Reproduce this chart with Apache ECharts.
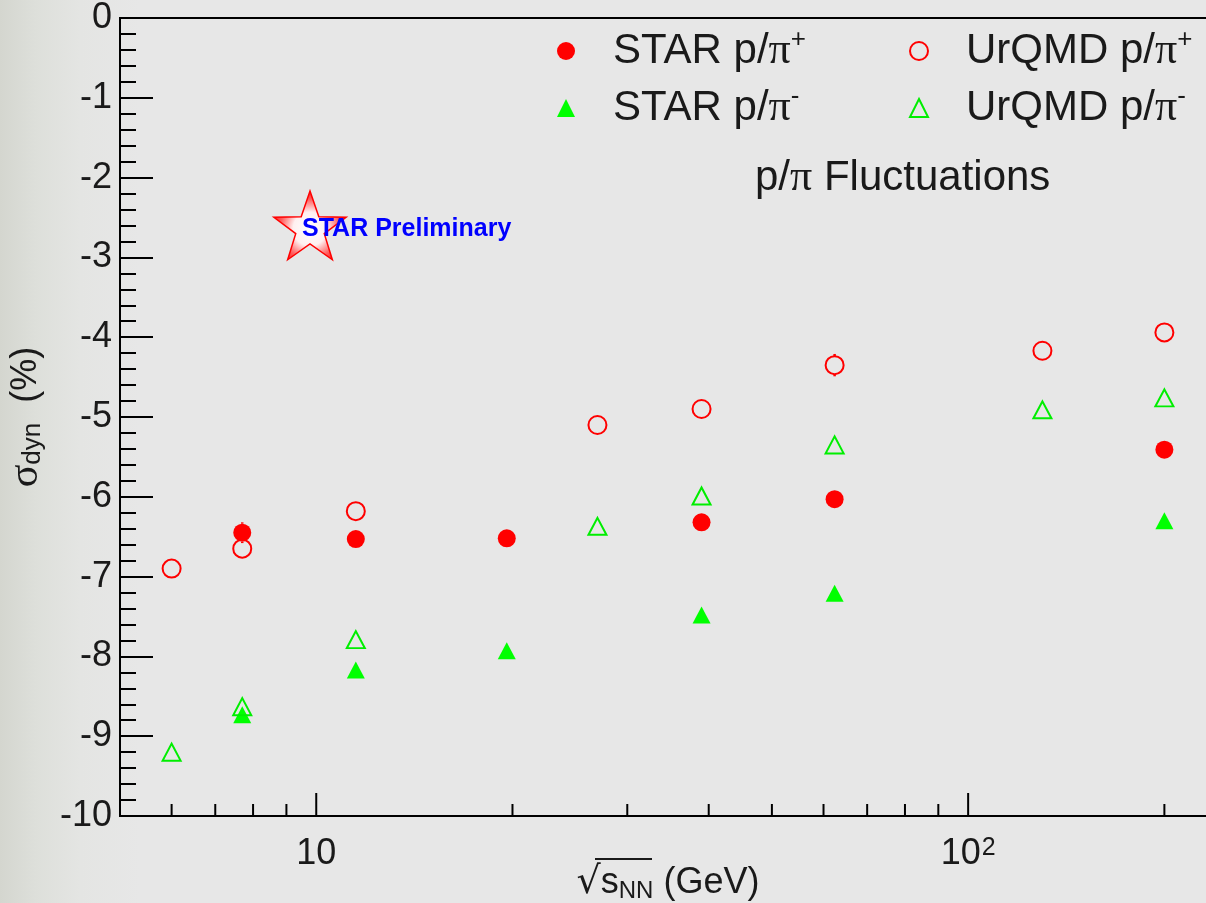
<!DOCTYPE html>
<html><head><meta charset="utf-8">
<script src="https://cdn.jsdelivr.net/npm/echarts@6/dist/echarts.min.js"></script>
<style>
html,body{margin:0;padding:0;}
body{width:1206px;height:903px;background:linear-gradient(to right,#d4d6cf 0px,#dddfda 35px,#e4e5e3 80px,#e7e7e7 140px,#e7e7e7 1206px);}
#c{width:1206px;height:903px;}
</style></head><body><div id="c"></div>
<script>
// ---- data ----
const energiesSTAR = [7.7, 11.5, 19.6, 39, 62.4, 200];
const starPiPlus = [-6.45, -6.53, -6.52, -6.32, -6.03, -5.41];
const starPiPlusErr = [0.13, 0.08, 0.06, 0.06, 0.06, 0.05];
const starPiMinus = [-8.73, -8.17, -7.93, -7.48, -7.21, -6.30];
const starPiMinusErr = [0.08, 0.06, 0.05, 0.05, 0.05, 0.04];
const energiesUrQMD = [6.0, 7.7, 11.5, 27, 39, 62.4, 130, 200];
const urqmdPiPlus = [-6.90, -6.65, -6.18, -5.10, -4.90, -4.35, -4.17, -3.94];
const urqmdPiPlusErr = [0.05, 0.05, 0.05, 0.05, 0.05, 0.14, 0.05, 0.05];
const urqmdPiMinus = [-9.20, -8.63, -7.79, -6.37, -5.99, -5.35, -4.91, -4.76];
const urqmdPiMinusErr = [0.05, 0.05, 0.05, 0.05, 0.05, 0.05, 0.05, 0.05];
const xMinorTicks = [6, 7, 8, 9, 20, 30, 40, 50, 60, 70, 80, 90, 200];
const xMajorTicks = [10, 100];
const seriesNames = ['STAR p/π+', 'STAR p/π-', 'UrQMD p/π+', 'UrQMD p/π-'];

const RED = '#ff0000', GREEN = '#00ee00', GREENF = '#00ff00';
const SANS = 'Liberation Sans, Arial, Helvetica, sans-serif';
const SERIF = 'Liberation Serif, Times New Roman, serif';

function pts(xs, ys, es) { return xs.map((x, i) => es ? [x, ys[i], es[i]] : [x, ys[i]]); }

function errRender(color) {
  return function (params, api) {
    const x = api.value(0), y = api.value(1), e = api.value(2);
    const c = api.coord([x, y]), t = api.coord([x, y + e]), b = api.coord([x, y - e]);
    const r = 9, ch = [];
    if (c[1] - t[1] > r) ch.push({ type: 'line', shape: { x1: c[0], y1: c[1] - r, x2: c[0], y2: t[1] }, style: { stroke: color, lineWidth: 2.5 } });
    if (b[1] - c[1] > r) ch.push({ type: 'line', shape: { x1: c[0], y1: c[1] + r, x2: c[0], y2: b[1] }, style: { stroke: color, lineWidth: 2.5 } });
    return { type: 'group', children: ch };
  };
}
function tickRender(len) {
  return function (params, api) {
    const p = api.coord([api.value(0), -10]);
    return { type: 'line', shape: { x1: p[0], y1: p[1], x2: p[0], y2: p[1] - len }, style: { stroke: '#000', lineWidth: 2 } };
  };
}

// star logo polygon
function starPoints(cx, cy, R, r) {
  const p = [];
  for (let i = 0; i < 10; i++) {
    const a = -Math.PI / 2 + i * Math.PI / 5;
    const rr = i % 2 === 0 ? R : r;
    p.push([cx + rr * Math.cos(a), cy + rr * Math.sin(a)]);
  }
  return p;
}

const legendRich = {
  gap: { width: 33 },
  a: { fontSize: 42, fontFamily: SANS, color: '#1a1a1a', lineHeight: 48 },
  pi: { fontSize: 44, fontFamily: SERIF, color: '#1a1a1a', lineHeight: 48 },
  sup: { fontSize: 26, fontFamily: SANS, color: '#1a1a1a', lineHeight: 48, verticalAlign: 'top' }
};
function legendFmt(name) {
  const m = name.match(/^(.*) p\/π([+-])$/);
  return '{gap|}{a|' + m[1] + ' p/}{pi|π}{sup|' + m[2] + '}';
}

const chart = echarts.init(document.getElementById('c'), null, { renderer: 'canvas' });
chart.setOption({
  backgroundColor: 'transparent',
  animation: false,
  grid: { left: 120, top: 18, bottom: 87, right: -10, outerBoundsMode: 'none', containLabel: false, show: true, borderColor: '#000', borderWidth: 2, backgroundColor: 'transparent' },
  legend: [
    { data: [seriesNames[0], seriesNames[1]], orient: 'vertical', left: 557, top: 27, padding: 0, itemGap: 11, itemWidth: 18, itemHeight: 18, selectedMode: false, formatter: legendFmt, textStyle: { rich: legendRich } },
    { data: [seriesNames[2], seriesNames[3]], orient: 'vertical', left: 909, top: 27, padding: 0, itemGap: 11, itemWidth: 18, itemHeight: 18, selectedMode: false, formatter: legendFmt, textStyle: { rich: legendRich } }
  ],
  xAxis: {
    type: 'log', logBase: 10, min: 5, max: 240,
    axisLine: { lineStyle: { color: '#000', width: 2 } },
    axisTick: { show: false }, splitLine: { show: false }, minorTick: { show: false },
    axisLabel: {
      margin: 20, fontSize: 36, fontFamily: SANS, color: '#1a1a1a',
      showMinLabel: false, showMaxLabel: false,
      formatter: function (v) {
        const k = Math.round(Math.log10(v));
        if (Math.abs(v - Math.pow(10, k)) > 1e-6 * v) return '';
        if (k === 1) return '10';
        if (k === 2) return '10{sup|2}';
        return '';
      },
      rich: { sup: { fontSize: 25, fontFamily: SANS, color: '#1a1a1a', verticalAlign: 'top', lineHeight: 30, padding: [0, 0, 0, 1] } }
    },
    name: '{sq|√}{s|s}{sub|NN}{t| (GeV)}', nameLocation: 'middle', nameGap: 47, nameMoveOverlap: false,
    nameTextStyle: {
      rich: {
        sq: { fontSize: 38, fontFamily: 'DejaVu Sans', color: '#1a1a1a', lineHeight: 40 },
        s: { fontSize: 36, fontFamily: SANS, color: '#1a1a1a', lineHeight: 40 },
        sub: { fontSize: 24, fontFamily: SANS, color: '#1a1a1a', lineHeight: 40, verticalAlign: 'bottom' },
        t: { fontSize: 36, fontFamily: SANS, color: '#1a1a1a', lineHeight: 40 }
      }
    }
  },
  yAxis: {
    type: 'value', min: -10, max: 0, interval: 1,
    axisLine: { show: true, lineStyle: { color: '#000', width: 2 } },
    axisTick: { show: true, inside: true, length: 33, lineStyle: { color: '#000', width: 2 } },
    minorTick: { show: true, splitNumber: 5, length: 16, lineStyle: { color: '#000', width: 2 } },
    splitLine: { show: false },
    axisLabel: { margin: 8, fontSize: 36, fontFamily: SANS, color: '#1a1a1a' },
    name: '{sig|σ}{sub|dyn}{t|  (%)}', nameLocation: 'middle', nameGap: 74, nameRotate: 90, nameMoveOverlap: false,
    nameTextStyle: {
      rich: {
        sig: { fontSize: 42, fontFamily: SERIF, color: '#1a1a1a', lineHeight: 40 },
        sub: { fontSize: 26, fontFamily: SANS, color: '#1a1a1a', lineHeight: 40, verticalAlign: 'bottom' },
        t: { fontSize: 36, fontFamily: SANS, color: '#1a1a1a', lineHeight: 40 }
      }
    }
  },
  graphic: [
    { type: 'polygon', shape: { points: starPoints(310, 229, 38, 15) }, z: 10,
      style: { fill: { type: 'radial', x: 0.5, y: 0.55, r: 0.6, colorStops: [{ offset: 0, color: '#ffffff' }, { offset: 0.4, color: '#fff0f0' }, { offset: 0.7, color: '#ff6060' }, { offset: 1, color: '#ff0000' }] }, stroke: '#ff0000', lineWidth: 1.5 } },
    { type: 'text', left: 302, top: 217, z: 11, style: { text: 'STAR Preliminary', font: 'bold 25px ' + SANS, fill: '#0000ff' } },
    { type: 'text', left: 755, top: 156, z: 11, style: { text: '{a|p/}{pi|π}{a| Fluctuations}', rich: { a: { fontSize: 42, fontFamily: SANS, fill: '#1a1a1a', lineHeight: 46 }, pi: { fontSize: 44, fontFamily: SERIF, fill: '#1a1a1a', lineHeight: 46 } } } },
    { type: 'line', z: 11, shape: { x1: 595, y1: 859, x2: 652, y2: 859 }, style: { stroke: '#1a1a1a', lineWidth: 2 } }
  ],
  series: [
    { type: 'custom', silent: true, z: 3, data: xMinorTicks.map(v => [v, -10]), renderItem: tickRender(12), encode: { x: 0, y: 1 }, clip: false },
    { type: 'custom', silent: true, z: 3, data: xMajorTicks.map(v => [v, -10]), renderItem: tickRender(23), encode: { x: 0, y: 1 }, clip: false },
    { type: 'custom', silent: true, z: 4, data: pts(energiesSTAR, starPiPlus, starPiPlusErr), renderItem: errRender(RED), encode: { x: 0, y: 1 } },
    { type: 'custom', silent: true, z: 4, data: pts(energiesSTAR, starPiMinus, starPiMinusErr), renderItem: errRender(GREENF), encode: { x: 0, y: 1 } },
    { type: 'custom', silent: true, z: 4, data: pts(energiesUrQMD, urqmdPiPlus, urqmdPiPlusErr), renderItem: errRender(RED), encode: { x: 0, y: 1 } },
    { type: 'custom', silent: true, z: 4, data: pts(energiesUrQMD, urqmdPiMinus, urqmdPiMinusErr), renderItem: errRender(GREEN), encode: { x: 0, y: 1 } },
    { name: seriesNames[0], type: 'scatter', z: 5, symbol: 'circle', symbolSize: 18, itemStyle: { color: RED, opacity: 1 }, data: pts(energiesSTAR, starPiPlus) },
    { name: seriesNames[1], type: 'scatter', z: 5, symbol: 'triangle', symbolSize: [18, 17], itemStyle: { color: GREENF, opacity: 1 }, data: pts(energiesSTAR, starPiMinus) },
    { name: seriesNames[2], type: 'scatter', z: 6, symbol: 'circle', symbolSize: 18, itemStyle: { color: 'rgba(0,0,0,0)', borderColor: RED, borderWidth: 2, opacity: 1 }, data: pts(energiesUrQMD, urqmdPiPlus) },
    { name: seriesNames[3], type: 'scatter', z: 6, symbol: 'triangle', symbolSize: [18, 17], itemStyle: { color: 'rgba(0,0,0,0)', borderColor: GREEN, borderWidth: 2, opacity: 1 }, data: pts(energiesUrQMD, urqmdPiMinus) }
  ]
});
</script></body></html>
